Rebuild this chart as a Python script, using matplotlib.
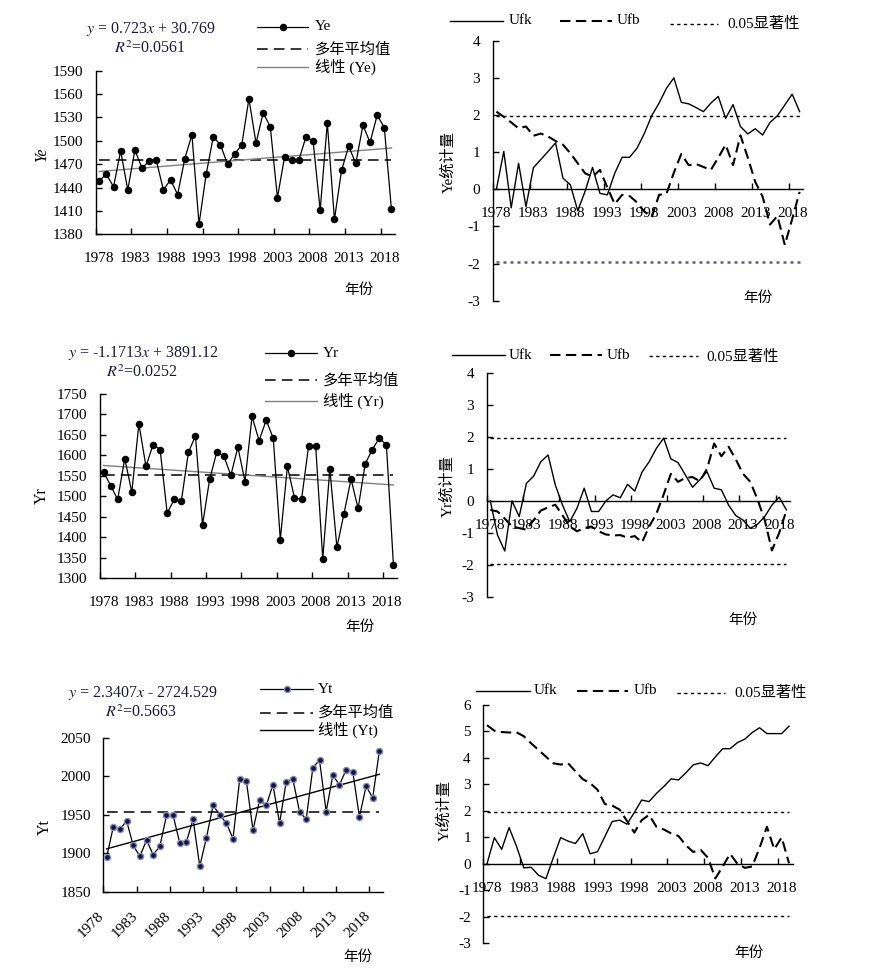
import numpy as np
import matplotlib.pyplot as plt
from matplotlib.transforms import ScaledTranslation

plt.rcParams['font.family'] = ['Liberation Serif', 'Noto Sans CJK SC']
plt.rcParams['mathtext.fontset'] = 'stix'
plt.rcParams['axes.unicode_minus'] = False
plt.rcParams['font.size'] = 11

# ---- data ----
years = np.arange(1978, 2020)
label_years = years[::5]

ye = [1449, 1457, 1441, 1487, 1437, 1488, 1465, 1474, 1475, 1437,
      1450, 1431, 1477, 1508, 1393, 1457, 1505, 1495, 1470, 1483,
      1495, 1554, 1497, 1536, 1518, 1427, 1479, 1475, 1475, 1505,
      1500, 1411, 1523, 1399, 1462, 1493, 1471, 1520, 1498, 1533,
      1517, 1412]
yr = [1560, 1526, 1492, 1592, 1510, 1677, 1573, 1626, 1614, 1459,
      1492, 1488, 1607, 1648, 1430, 1541, 1607, 1599, 1551, 1620,
      1536, 1695, 1636, 1686, 1642, 1394, 1573, 1496, 1492, 1623,
      1623, 1347, 1567, 1375, 1457, 1542, 1470, 1579, 1614, 1642,
      1626, 1331]
yt = [1895, 1934, 1931, 1942, 1910, 1896, 1917, 1898, 1909, 1949,
      1949, 1913, 1915, 1944, 1883, 1920, 1962, 1950, 1939, 1919,
      1996, 1994, 1930, 1969, 1962, 1989, 1939, 1993, 1996, 1954,
      1944, 2011, 2021, 1954, 2001, 1989, 2008, 2006, 1947, 1987,
      1972, 2033]

ye_ufk = [0, 1.02, -0.5, 0.7, -0.47, 0.58, 0.8, 1.02, 1.25, 0.3,
          0.12, -0.58, -0.05, 0.59, -0.11, -0.15, 0.43, 0.86, 0.86, 1.1,
          1.5, 1.98, 2.32, 2.72, 3.0, 2.34, 2.3, 2.2, 2.09, 2.32,
          2.5, 1.91, 2.28, 1.69, 1.49, 1.63, 1.46, 1.8, 1.98, 2.27,
          2.56, 2.09]
ye_ufb = [2.09, 1.95, 1.8, 1.64, 1.69, 1.44, 1.5, 1.42, 1.3, 1.2,
          0.97, 0.7, 0.43, 0.34, 0.52, 0.05, -0.4, -0.15, -0.18, -0.35,
          -0.6, -0.75, -0.15, -0.12, 0.45, 0.95, 0.65, 0.68, 0.6, 0.52,
          0.85, 1.2, 0.65, 1.45, 0.85, 0.2, -0.2, -0.95, -0.72, -1.5,
          -0.8, -0.07]
yr_ufk = [0, -1.07, -1.57, 0, -0.49, 0.55, 0.78, 1.23, 1.44, 0.5,
          -0.13, -0.65, -0.23, 0.4, -0.33, -0.33, 0, 0.19, 0.1, 0.52,
          0.31, 0.9, 1.23, 1.65, 1.97, 1.32, 1.2, 0.82, 0.43, 0.66,
          0.92, 0.4, 0.35, -0.13, -0.46, -0.6, -0.86, -0.73, -0.49, -0.13,
          0.12, -0.28]
yr_ufb = [-0.28, -0.33, -0.55, -0.8, -0.85, -0.9, -0.6, -0.3, -0.2, -0.12,
          -0.45, -0.8, -0.95, -0.85, -0.8, -0.95, -1.05, -1.08, -1.07, -1.15,
          -1.1, -1.3, -0.8, -0.4, 0.2, 0.85, 0.6, 0.72, 0.75, 0.62,
          1.0, 1.8, 1.4, 1.7, 1.3, 0.85, 0.6, 0.05, -0.6, -1.55,
          -1.0, -0.3]
yt_ufk = [0, 0.99, 0.55, 1.37, 0.67, -0.15, -0.13, -0.43, -0.56, 0.23,
          0.99, 0.86, 0.77, 1.14, 0.38, 0.46, 1.03, 1.6, 1.65, 1.5,
          1.94, 2.41, 2.35, 2.66, 2.92, 3.21, 3.17, 3.44, 3.74, 3.81,
          3.71, 4.04, 4.35, 4.35, 4.58, 4.71, 4.96, 5.14, 4.92, 4.92,
          4.92, 5.2]
yt_ufb = [5.24, 5.03, 4.98, 4.96, 4.97, 4.82, 4.55, 4.3, 4.05, 3.8,
          3.75, 3.8, 3.5, 3.2, 3.05, 2.8, 2.26, 2.2, 2.05, 1.62,
          1.18, 1.65, 1.85, 1.4, 1.3, 1.15, 1.05, 0.7, 0.45, 0.53,
          0.23, -0.55, -0.1, 0.38, 0.0, -0.15, -0.1, 0.6, 1.4, 0.55,
          1.0, 0.02]
sig_level = 1.96

W, H = 873, 972
fig = plt.figure(figsize=(W / 100, H / 100), dpi=100)

# overlay in pixel coords for the free text / legends
ov = fig.add_axes([0, 0, 1, 1], zorder=5)
ov.set_xlim(0, W)
ov.set_ylim(H, 0)
ov.axis('off')


def box(l, t, r, b):
    return fig.add_axes([l / W, 1 - b / H, (r - l) / W, (b - t) / H])


def style_x(ax, pad=11, rotate=False):
    n = len(years)
    ax.set_xlim(-0.5, n - 0.5)
    ax.set_xticks(np.arange(-0.5, n, 5))
    ax.set_xticklabels([])
    ax.set_xticks(np.arange(0, n, 5), minor=True)
    if rotate:
        ax.set_xticklabels([str(y) for y in label_years], minor=True,
                           rotation=45, ha='right', rotation_mode='anchor')
    else:
        ax.set_xticklabels([str(y) for y in label_years], minor=True)
    ax.tick_params(axis='x', which='major', direction='in', length=4.5, width=1)
    ax.tick_params(axis='x', which='minor', length=0, pad=pad, labelsize=11)
    ax.tick_params(axis='y', direction='in', length=4.5, width=1, pad=9, labelsize=11)
    for s in ['top', 'right']:
        ax.spines[s].set_visible(False)
    for s in ['left', 'bottom']:
        ax.spines[s].set_linewidth(1.0)
    ax.patch.set_alpha(0)


def legend_row(x0, x1, y, text, tx, ty=None, **kw):
    ov.plot([x0, x1], [y, y], color=kw.pop('color', 'k'), **kw)
    ov.text(tx, y if ty is None else ty, text, ha='left', va='center', fontsize=11)


def left_panel(rect, vals, yticks, name, eq, r2, eq_pos, r2_pos, leg, mfc, mec, trend_c,
               ylab_pos, xlab_pos, italic=False, rotate=False):
    ax = box(*rect)
    x = np.arange(len(vals))
    v = np.array(vals, dtype=float)
    k, b = np.polyfit(x, v, 1)
    ax.plot([x[0], x[-1]], [v.mean(), v.mean()], color='k', lw=1.1, dashes=(7, 4), zorder=2)
    ax.plot(x, k * x + b, color=trend_c, lw=1.0, zorder=2)
    ax.plot(x, v, color='k', lw=0.9, marker='o', ms=4.4, mfc=mfc, mec=mec, mew=1.0, zorder=3)
    ax.set_ylim(yticks[0], yticks[-1])
    ax.set_yticks(yticks)
    style_x(ax, pad=13, rotate=rotate)
    if rotate:
        for t in ax.xaxis.get_minor_ticks():
            t.label1.set_transform(t.label1.get_transform()
                                   + ScaledTranslation(-0.09, 0.0, fig.dpi_scale_trans))

    ov.text(eq_pos[0], eq_pos[1], eq, ha='center', va='center', fontsize=11.5, color='#1a1a3a')
    ov.text(r2_pos[0], r2_pos[1], r2, ha='center', va='center', fontsize=11.5, color='#1a1a3a')

    (hx0, hx1, tx), rows = leg[0], leg[1]
    ov.plot([hx0, hx1], [rows[0], rows[0]], color='k', lw=0.9)
    ov.plot([(hx0 + hx1) / 2], [rows[0]], 'o', ms=4.4, mfc=mfc, mec=mec, mew=1.0)
    ov.text(tx, rows[0], name, ha='left', va='center', fontsize=11)
    legend_row(hx0, hx1, rows[1], '多年平均值', tx, lw=1.1, dashes=(7, 4))
    legend_row(hx0, hx1, rows[2], f'线性 ({name})', tx, lw=1.0, color=trend_c)

    ov.text(ylab_pos[0], ylab_pos[1], name, rotation=90, ha='center', va='center',
            fontsize=11.5, style='italic' if italic else 'normal')
    ov.text(xlab_pos[0], xlab_pos[1], '年份', ha='center', va='center', fontsize=10.5)
    return ax


def mk_panel(rect, ufk, ufb, ylim, name, leg, ylab_pos, xlab_pos, lower_kw):
    ax = box(*rect)
    x = np.arange(len(ufk))
    ax.plot(x, ufk, color='k', lw=1.0)
    ax.plot(x, ufb, color='k', lw=1.5, dashes=(5, 2.6))
    ax.plot([x[0], x[-1]], [sig_level, sig_level], color='k', lw=1.0, dashes=(2.4, 2.4))
    ax.plot([x[0], x[-1]], [-sig_level, -sig_level], **lower_kw)
    ax.set_ylim(*ylim)
    ax.set_yticks(range(ylim[0], ylim[1] + 1))
    ax.spines['bottom'].set_position(('data', 0))
    style_x(ax, pad=13)

    y0, y1 = leg['y']
    legend_row(leg['ufk'][0], leg['ufk'][1], y0, 'Ufk', leg['ufk'][2], lw=1.0)
    legend_row(leg['ufb'][0], leg['ufb'][1], y0, 'Ufb', leg['ufb'][2], lw=1.5, dashes=(5, 2.6))
    legend_row(leg['sig'][0], leg['sig'][1], y1, '0.05显著性', leg['sig'][2], lw=1.0, dashes=(2.4, 2.4))

    ov.text(ylab_pos[0], ylab_pos[1], f'{name}统计量', rotation=90, ha='center', va='center', fontsize=11)
    ov.text(xlab_pos[0], xlab_pos[1], '年份', ha='center', va='center', fontsize=10.5)
    return ax


# ---- left column ----
left_panel((95.7, 70.7, 395, 234.3), ye, list(range(1380, 1591, 30)), 'Ye',
           r'$y$ = 0.723$x$ + 30.769', r'$R^{2}$=0.0561', (150.5, 29.3), (150, 48.3),
           ((256.7, 308.3, 315), (26.7, 49.3, 66.7)), 'k', 'k', '#808080',
           (41.7, 155), (359, 290), italic=True)
left_panel((100, 394, 397, 578), yr, list(range(1300, 1751, 50)), 'Yr',
           r'$y$ = -1.1713$x$ + 3891.12', r'$R^{2}$=0.0252', (144, 352.7), (142.5, 372.3),
           ((265, 316.7, 322.7), (353.3, 380, 400.7)), 'k', 'k', '#808080',
           (41.7, 495.7), (360, 626.7))
left_panel((103.3, 737.7, 382.7, 891.7), yt, list(range(1850, 2051, 50)), 'Yt',
           r'$y$ = 2.3407$x$ - 2724.529', r'$R^{2}$=0.5663', (142.5, 692.7), (141, 712.7),
           ((260, 313.3, 318.3), (689.3, 712.7, 730)), '#15153a', '#8a8ac0', 'k',
           (45, 826.7), (357.5, 957.3), rotate=True)

# ---- right column (Mann-Kendall) ----
mk_panel((492.7, 40.7, 803.3, 300.7), ye_ufk, ye_ufb, (-3, 4), 'Ye',
         {'y': (20.7, 24), 'ufk': (450, 503.3, 508.3), 'ufb': (560, 611.7, 616.7),
          'sig': (670, 718.3, 727.3)},
         (448.3, 161.7), (757.5, 298.3),
         dict(color='#5c5c96', lw=1.8, dashes=(1.2, 1.6)))
mk_panel((486.7, 373.3, 790, 596.7), yr_ufk, yr_ufb, (-3, 4), 'Yr',
         {'y': (355, 356.5), 'ufk': (451.7, 505, 508.3), 'ufb': (550, 601.7, 606.7),
          'sig': (649.3, 698.3, 706.7)},
         (447.3, 485.7), (743, 620),
         dict(color='k', lw=1.0, dashes=(2.4, 2.4)))
mk_panel((483.3, 705, 792.7, 943.3), yt_ufk, yt_ufb, (-3, 6), 'Yt',
         {'y': (690.7, 692.7), 'ufk': (476, 530, 533.3), 'ufb': (576.7, 628.3, 633.3),
          'sig': (677.3, 725, 734)},
         (444, 810), (749, 953.3),
         dict(color='k', lw=1.0, dashes=(2.4, 2.4)))

plt.savefig('out.png', dpi=100)
